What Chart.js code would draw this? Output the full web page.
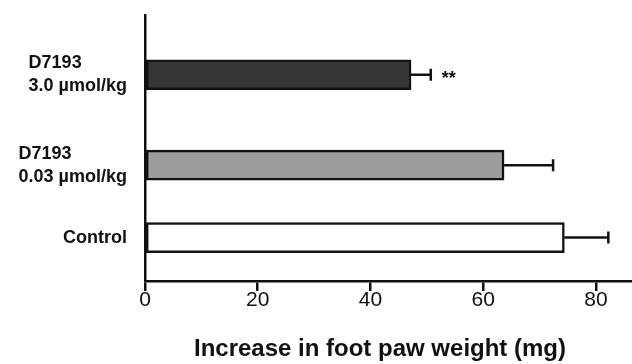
<!DOCTYPE html>
<html>
<head>
<meta charset="utf-8">
<script src="https://cdn.jsdelivr.net/npm/chart.js@4/dist/chart.umd.min.js"></script>
<style>
  html, body { margin: 0; padding: 0; background: #fff; }
  #wrap { width: 632px; height: 364px; position: relative; }
</style>
</head>
<body>
<div id="wrap"><canvas id="c"></canvas></div>
<script>
// Treatment groups, top to bottom
const groups = [
  ['D7193', '3.0 \u00b5mol/kg'],
  ['D7193', '0.03 \u00b5mol/kg'],
  ['Control']
];
// Mean increase in foot paw weight (mg) and its SEM
const meanWeight = [47.2, 63.7, 74.4];
const semWeight = [3.5, 8.7, 7.8];
// Significance marks against control
const significance = ['**', '', ''];
// Tick values on the weight axis
const weightTicks = [0, 20, 40, 60, 80];
const axisTitle = 'Increase in foot paw weight (mg)';

// Row slots on the vertical axis (uneven spacing between groups)
const rowSlot = [0, 5, 9];

const fills = ['#363636', '#9c9c9c', '#ffffff'];

const FONT = 'Liberation Sans, Arial, Helvetica, sans-serif';
Chart.defaults.font.family = FONT;
Chart.defaults.color = '#111';

const annotations = {
  id: 'annotations',
  afterDatasetsDraw(chart) {
    const { ctx, scales: { x, y } } = chart;
    ctx.save();
    ctx.fillStyle = '#111';

    // group labels: lines left-aligned, block ending just left of the axis
    ctx.font = 'bold 18px ' + FONT;
    ctx.textBaseline = 'middle';
    ctx.textAlign = 'left';
    const lineGap = 23;
    const rightEdge = 127;
    groups.forEach((lines, i) => {
      const cy = y.getPixelForValue(rowSlot[i]);
      const w = Math.max(...lines.map(l => ctx.measureText(l).width));
      const top = cy - (lines.length - 1) * lineGap / 2;
      lines.forEach((l, k) => ctx.fillText(l, rightEdge - w, top + k * lineGap));
    });

    // SEM whiskers (positive side only) and significance marks
    ctx.strokeStyle = '#111';
    ctx.lineWidth = 2.5;
    meanWeight.forEach((m, i) => {
      const cy = y.getPixelForValue(rowSlot[i]);
      const x0 = x.getPixelForValue(m);
      const x1 = x.getPixelForValue(m + semWeight[i]);
      ctx.beginPath();
      ctx.moveTo(x0, cy);
      ctx.lineTo(x1, cy);
      ctx.moveTo(x1, cy - 6);
      ctx.lineTo(x1, cy + 6);
      ctx.stroke();
      if (significance[i]) {
        ctx.font = 'bold 18px ' + FONT;
        ctx.textBaseline = 'alphabetic';
        ctx.fillText(significance[i], x1 + 11, cy + 9);
      }
    });

    // axis title
    ctx.font = 'bold 24px ' + FONT;
    ctx.textAlign = 'center';
    ctx.textBaseline = 'middle';
    ctx.fillText(axisTitle, 380, 349);
    ctx.restore();
  }
};

new Chart(document.getElementById('c'), {
  type: 'bar',
  data: {
    datasets: [{
      data: meanWeight.map((v, i) => ({ x: v, y: rowSlot[i] })),
      backgroundColor: fills,
      borderColor: '#111',
      borderWidth: 2.5,
      borderSkipped: false,
      barThickness: 30
    }]
  },
  options: {
    indexAxis: 'y',
    responsive: true,
    maintainAspectRatio: false,
    animation: false,
    layout: { padding: { top: 15, right: 0, bottom: 0, left: 0 } },
    plugins: { legend: { display: false }, tooltip: { enabled: false } },
    scales: {
      y: {
        type: 'linear',
        reverse: true,
        offset: false,
        min: -3.3,
        max: 11.4,
        ticks: { display: false },
        grid: { display: false },
        border: { display: true, color: '#111', width: 2.5 },
        afterFit(scale) { scale.width = 145; }
      },
      x: {
        type: 'linear',
        min: 0,
        max: 86.4,
        afterBuildTicks(scale) {
          scale.ticks = weightTicks.map(v => ({ value: v }));
        },
        ticks: {
          color: '#111',
          font: { size: 21 },
          padding: -3
        },
        grid: {
          drawOnChartArea: false,
          drawTicks: true,
          tickLength: 10,
          color: '#111',
          lineWidth: 2.5
        },
        border: { display: true, color: '#111', width: 2.5 },
        afterFit(scale) { scale.height = 83; }
      }
    }
  },
  plugins: [annotations]
});
</script>
</body>
</html>
